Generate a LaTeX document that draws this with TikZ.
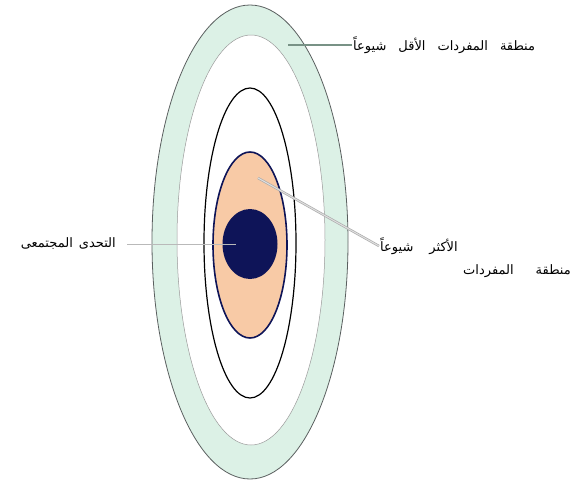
\documentclass[tikz,border=0pt]{standalone}
\usepackage{fontspec}
\usetikzlibrary{positioning}
\newfontfamily\arabicfont[Script=Arabic]{DejaVu Sans}
\TeXXeTstate=1
\definecolor{mymint}{RGB}{220,241,230}
\definecolor{mypeach}{RGB}{248,202,166}
\definecolor{mynavy}{RGB}{14,20,88}
\definecolor{myrim}{RGB}{90,95,95}
\definecolor{myleader}{RGB}{120,146,134}
\tikzset{
  label/.style={font=\arabicfont\fontsize{13}{15}\selectfont, inner sep=1pt},
  leader/.style={line width=0.8pt, draw=gray!55}
}

\begin{document}
\begin{tikzpicture}[x=1pt, y=-1pt]
\useasboundingbox (0,0) rectangle (571,483);
% outer ring
\draw[myrim, fill=mymint, line width=0.8pt] (250,242) ellipse [x radius=98, y radius=237];
\draw[gray!80, fill=white, line width=0.5pt] (251,240) ellipse [x radius=74, y radius=205];

% middle ring
\draw[black, line width=1.2pt] (250,243) ellipse [x radius=46, y radius=155];

% core
\draw[mynavy, fill=mypeach, line width=1.6pt] (250,245) ellipse [x radius=37, y radius=93];
\fill[mynavy] (250,244) ellipse [x radius=27.5, y radius=35];

% labels
\node[label, anchor=west] (rare) at (352,45) {\beginR منطقة\hspace{12pt}المفردات\hspace{12pt}الأقل\hspace{12pt}شيوعاً\endR};
\node[label, anchor=west] (freqa) at (379,246) {\beginR الأكثر\hspace{16pt}شيوعاً\endR};
\node[label, anchor=east] (freqb) at (572,271) {\beginR منطقة\hspace{22pt}المفردات\endR};
\node[label, anchor=east] (core) at (117,244) {\beginR التحدى\hspace{6pt}المجتمعى\endR};

% leaders
\coordinate (rarept) at (288,45);
\coordinate (freqpt) at (258,178);
\coordinate (corept) at (236,244);
\draw[line width=2.4pt, myleader] (rare.west) -- (rarept);
\draw[draw=gray!65, double=gray!25, double distance=1pt, line width=0.7pt] (freqa.west) -- (freqpt);
\draw[leader] ([xshift=10pt]core.east) -- (corept);
\end{tikzpicture}
\end{document}
